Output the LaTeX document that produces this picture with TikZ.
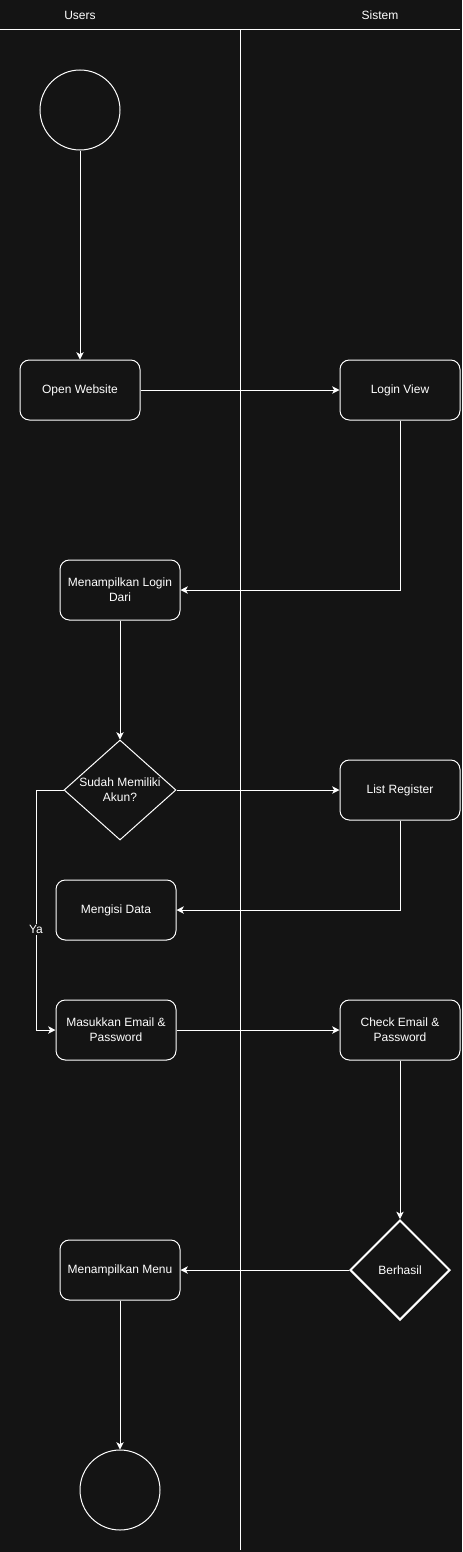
\documentclass[tikz,border=0pt]{standalone}
\usepackage{fontspec}
\setmainfont{Liberation Sans}
\usetikzlibrary{arrows.meta,shapes.geometric}
\definecolor{bgdark}{HTML}{141414}

\begin{document}
\begin{tikzpicture}[
  x=0.75pt, y=-0.75pt,
  every node/.style={font=\fontsize{9}{11}\selectfont, text=white},
  act/.style={draw=white,line width=0.75pt,rectangle,rounded corners=7pt,minimum width=90pt,minimum height=45pt,align=center,inner sep=1pt},
  dec/.style={draw=white,line width=0.75pt,diamond,aspect=1.12,minimum width=84pt,minimum height=75pt,align=center,inner sep=0pt},
  term/.style={draw=white,line width=0.75pt,circle,minimum size=60pt,inner sep=0pt},
  e/.style={-{Stealth[length=5.5pt,width=5.5pt,inset=1.5pt]},white,line width=0.75pt},
  lane/.style={white,line width=0.75pt}
]
\fill[bgdark] (0,0) rectangle (462,1552);
\useasboundingbox (0,0) rectangle (462,1552);

% swimlanes
\node (users) at (80,15) {Users};
\node (sistem) at (380,15) {Sistem};
\draw[lane] (0,30) -- (460,30);
\draw[lane] (240,30) -- (240,1550);

% nodes
\node[term] (start) at (80,110) {};
\node[act] (open) at (80,390) {Open Website};
\node[act] (login) at (400,390) {Login View};
\node[act] (form) at (120,590) {Menampilkan Login\\Dari};
\node[dec] (akun) at (120,790) {Sudah Memiliki\\Akun?};
\node[act] (reg) at (400,790) {List Register};
\node[act] (isi) at (116,910) {Mengisi Data};
\node[act] (masuk) at (116,1030) {Masukkan Email \&\\Password};
\node[act] (cek) at (400,1030) {Check Email \&\\Password};
\node[dec,line width=1.5pt,aspect=1,minimum width=75pt,minimum height=75pt] (ok) at (400,1270) {Berhasil};
\node[act] (menu) at (120,1270) {Menampilkan Menu};
\node[term] (stop) at (120,1490) {};
\coordinate (ya) at (36,790);

% flows
\draw[e] (start) -- (open);
\draw[e] (open) -- (login);
\draw[e] (login.south) |- (form.east);
\draw[e] (form) -- (akun);
\draw[e] (akun.east) -- (reg.west);
\draw[e] (reg.south) |- (isi.east);
\draw[e] (akun.west) -- (ya) |- node[pos=0.29,fill=bgdark,inner sep=1pt] {Ya} (masuk.west);
\draw[e] (masuk) -- (cek);
\draw[e] (cek) -- (ok);
\draw[e] (ok) -- (menu);
\draw[e] (menu) -- (stop);
\end{tikzpicture}
\end{document}
